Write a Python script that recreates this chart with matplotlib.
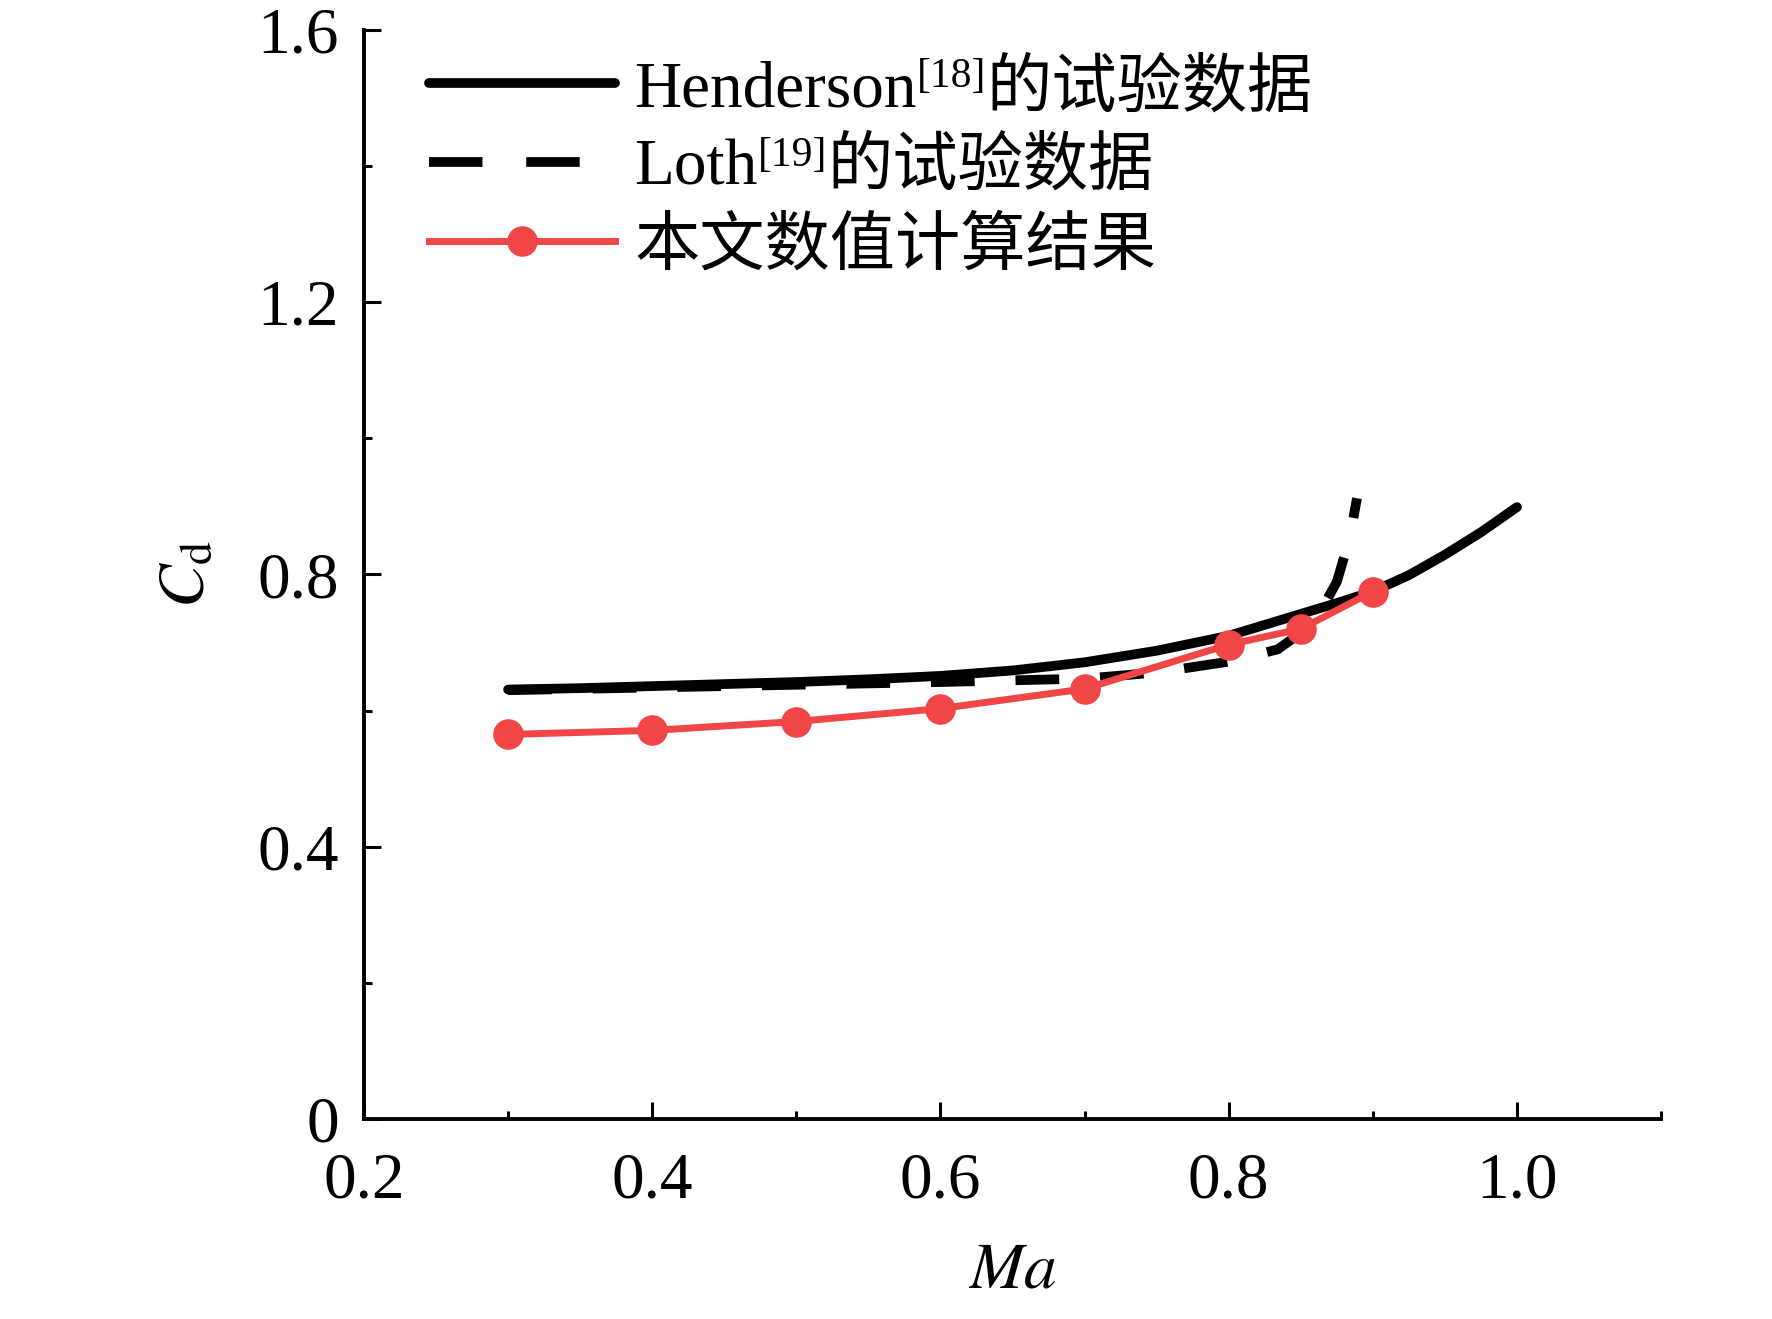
import numpy as np
import matplotlib
matplotlib.use('Agg')
import matplotlib.pyplot as plt
from matplotlib.ticker import MultipleLocator

plt.rcParams['font.family'] = ['Liberation Serif', 'Noto Sans CJK SC']
plt.rcParams['mathtext.fontset'] = 'stix'

# Henderson [18] experimental data
hend_ma = [0.30, 0.35, 0.40, 0.45, 0.50, 0.55, 0.60, 0.65, 0.70, 0.75, 0.80, 0.85,
           0.875, 0.90, 0.925, 0.95, 0.975, 1.00]
hend_cd = [0.631, 0.633, 0.636, 0.639, 0.642, 0.646, 0.651, 0.659, 0.671, 0.688, 0.710, 0.742,
           0.758, 0.775, 0.799, 0.829, 0.862, 0.899]

# Loth [19] experimental data
loth_ma = [0.30, 0.40, 0.50, 0.60, 0.70, 0.75, 0.80, 0.834, 0.859, 0.875, 0.884, 0.889]
loth_cd = [0.630, 0.634, 0.638, 0.642, 0.647, 0.656, 0.672, 0.690, 0.728, 0.789, 0.854, 0.912]

# present numerical results
num_ma = [0.3, 0.4, 0.5, 0.6, 0.7, 0.8, 0.85, 0.9]
num_cd = [0.565, 0.571, 0.584, 0.603, 0.632, 0.697, 0.720, 0.775]

xticks = [0.2, 0.4, 0.6, 0.8, 1.0]
xticklabels = ['0.2', '0.4', '0.6', '0.8', '1.0']
yticks = [0, 0.4, 0.8, 1.2, 1.6]
yticklabels = ['0', '0.4', '0.8', '1.2', '1.6']

labels = ['Henderson', 'Loth', '本文数值计算结果']
refs = ['[18]', '[19]']
suffix = '的试验数据'

red = '#F04646'
fs = 47

fig = plt.figure(figsize=(17.72, 13.19), dpi=100)
ax = fig.add_axes([0.2054, 0.1516, 0.732, 0.8257])

ax.plot(hend_ma, hend_cd, color='black', lw=7, solid_capstyle='round',
        solid_joinstyle='round', label=labels[0])
ax.plot(loth_ma, loth_cd, color='black', lw=7, dashes=(4.5, 4.2), label=labels[1])
ax.plot(num_ma, num_cd, color=red, lw=5, marker='o', ms=21, label=labels[2])

ax.set_xlim(0.2, 1.1)
ax.set_ylim(0, 1.6)
ax.set_xticks(xticks)
ax.set_xticklabels(xticklabels)
ax.set_yticks(yticks)
ax.set_yticklabels(yticklabels)
ax.xaxis.set_minor_locator(MultipleLocator(0.1))
ax.yaxis.set_minor_locator(MultipleLocator(0.2))
ax.tick_params(which='both', direction='in', width=2.2, labelsize=fs)
ax.tick_params(which='major', length=12)
ax.tick_params(which='minor', length=6)
ax.tick_params(axis='x', pad=24)
ax.tick_params(axis='y', pad=18)
for s in ['top', 'right']:
    ax.spines[s].set_visible(False)
for s in ['left', 'bottom']:
    ax.spines[s].set_linewidth(2.8)

ax.set_xlabel(r'$Ma$', fontsize=fs, labelpad=22)
ax.set_ylabel(r'$C_{\rm d}$', fontsize=fs, labelpad=28)

leg = ax.legend(loc='upper left', bbox_to_anchor=(0.05, 0.972), frameon=False,
                fontsize=fs, handlelength=2.85, handletextpad=0.3,
                labelspacing=0.29, borderpad=0, borderaxespad=0)
# two long dashes in the legend sample, as in the original
leg.get_lines()[1].set_dashes((5.5, 4.5))

# superscript references and Chinese suffix chained after the legend texts
texts = leg.get_texts()
for t, r in zip(texts[:2], refs):
    sup = ax.annotate(r, xy=(1, 1.05), xycoords=t, va='top', ha='left',
                      fontsize=30, zorder=10)
    ax.annotate(suffix, xy=(1, 0), xycoords=(sup, t), va='bottom', ha='left',
                fontsize=fs, zorder=11)

fig.canvas.draw()
fig.savefig('out.png', dpi=100)
